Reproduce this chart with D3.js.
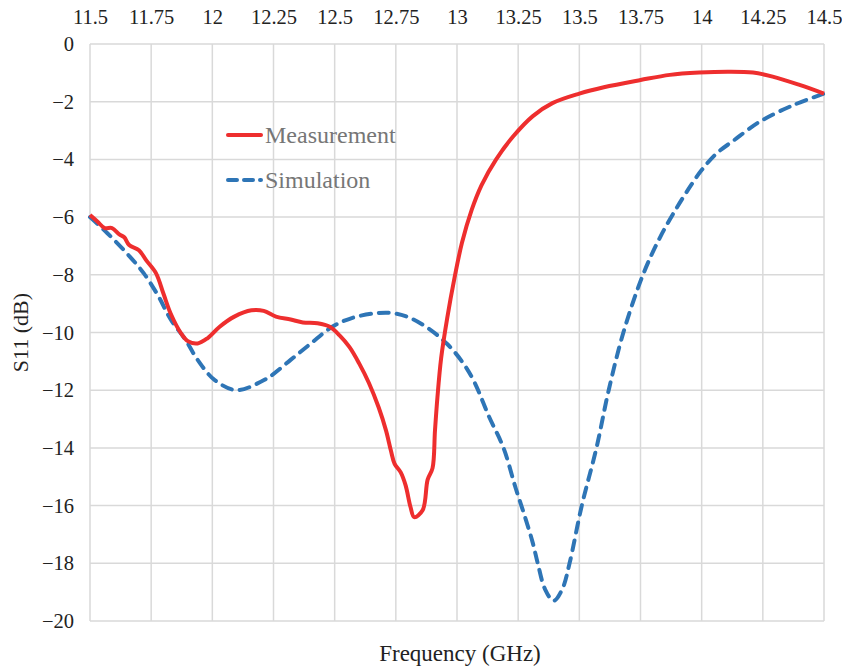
<!DOCTYPE html>
<html>
<head>
<meta charset="utf-8">
<script src="https://cdn.jsdelivr.net/npm/d3@7"></script>
<style>
  body { margin: 0; background: #fff; }
  svg text { font-family: "Liberation Serif", "DejaVu Serif", serif !important; }
</style>
</head>
<body>
<svg id="chart" width="842" height="667"></svg>
<script>
const serif = '"Liberation Serif", "DejaVu Serif", serif'

// frequency ticks (GHz) and S11 ticks (dB)
const xTicks = [11.5, 11.75, 12, 12.25, 12.5, 12.75, 13, 13.25, 13.5, 13.75, 14, 14.25, 14.5]
const yTicks = [0, -2, -4, -6, -8, -10, -12, -14, -16, -18, -20]

const measFreq = [11.5, 11.53, 11.56, 11.59, 11.62, 11.64, 11.66, 11.70, 11.73, 11.77, 11.80, 11.83, 11.87, 11.90, 11.94, 11.98,
  12.03, 12.09, 12.16, 12.21, 12.26, 12.32, 12.37, 12.43, 12.48, 12.52, 12.56, 12.60, 12.64, 12.68, 12.71, 12.73,
  12.745, 12.77, 12.79, 12.81, 12.825, 12.86, 12.88, 12.90, 12.91, 12.92, 12.935, 12.96, 12.99, 13.02, 13.06, 13.1,
  13.16, 13.23, 13.31, 13.39, 13.5, 13.6, 13.75, 13.87, 13.99, 14.11, 14.21, 14.29, 14.4, 14.5]
const measS11 = [-5.93, -6.15, -6.38, -6.38, -6.6, -6.7, -6.97, -7.15, -7.5, -7.95, -8.65, -9.35, -10.0, -10.3, -10.38, -10.2,
  -9.8, -9.45, -9.23, -9.25, -9.45, -9.55, -9.65, -9.68, -9.8, -10.1, -10.5, -11.07, -11.75, -12.6, -13.4, -14.1,
  -14.55, -14.85, -15.3, -16.05, -16.4, -16.15, -15.1, -14.7, -13.4, -12.25, -10.9, -9.5, -8.1, -6.9, -5.75, -4.9,
  -4.0, -3.2, -2.5, -2.05, -1.72, -1.5, -1.25, -1.07, -0.99, -0.96, -0.99, -1.13, -1.42, -1.72]

// simulated S11
const simFreq = [11.5, 11.57, 11.65, 11.72, 11.78, 11.83, 11.89, 11.94, 12.01, 12.10, 12.20, 12.24, 12.32, 12.40, 12.49,
  12.57, 12.67, 12.74, 12.81, 12.89, 12.96, 13.02, 13.07, 13.13, 13.19, 13.24, 13.28, 13.31, 13.33, 13.36, 13.395, 13.43,
  13.46, 13.51, 13.57, 13.62, 13.68, 13.76, 13.83, 13.90, 13.96, 14.0, 14.06, 14.13, 14.24, 14.38, 14.5]
const simS11 = [-6.0, -6.55, -7.25, -7.95, -8.75, -9.55, -10.25, -10.95, -11.65, -12.0, -11.7, -11.5, -10.95, -10.4, -9.8,
  -9.5, -9.33, -9.33, -9.5, -9.9, -10.4, -11.0, -11.7, -12.9, -14.0, -15.4, -16.45, -17.3, -18.0, -18.9, -19.3, -18.9,
  -18.0, -16.0, -14.0, -12.0, -10.0, -8.0, -6.7, -5.65, -4.85, -4.37, -3.8, -3.35, -2.68, -2.1, -1.72]

const width = 842, height = 667
const margin = {top: 44, right: 18, bottom: 46, left: 90}
const svg = d3.select('#chart')

const x = d3.scaleLinear().domain([11.5, 14.5]).range([margin.left, width - margin.right])
const y = d3.scaleLinear().domain([-20, 0]).range([height - margin.bottom, margin.top])

// grid
svg.append('g')
  .selectAll('line')
  .data(xTicks)
  .enter()
  .append('line')
  .attr('x1', d => x(d)).attr('x2', d => x(d))
  .attr('y1', y(0)).attr('y2', y(-20))
  .attr('stroke', '#d9d9d9').attr('stroke-width', 1.5)

svg.append('g')
  .selectAll('line')
  .data(yTicks)
  .enter()
  .append('line')
  .attr('x1', x(11.5)).attr('x2', x(14.5))
  .attr('y1', d => y(d)).attr('y2', d => y(d))
  .attr('stroke', '#d9d9d9').attr('stroke-width', 1.5)

// top axis labels
const xAxis = svg.append('g')
  .attr('transform', 'translate(0,' + margin.top + ')')
  .call(d3.axisTop(x).tickValues(xTicks).tickSize(0).tickPadding(20).tickFormat(d => String(d)))
  .attr('font-family', serif)
  .attr('font-size', 20.5)
xAxis.select('.domain').remove()
xAxis.selectAll('text').attr('fill', '#222')

const yAxis = svg.append('g')
  .attr('transform', 'translate(' + margin.left + ',0)')
  .call(d3.axisLeft(y).tickValues(yTicks).tickSize(0).tickPadding(16)
    .tickFormat(d => d < 0 ? '\u2212' + Math.abs(d) : String(d)))
  .attr('font-family', serif)
  .attr('font-size', 20.5)
yAxis.select('.domain').remove()
yAxis.selectAll('text').attr('fill', '#222')

// axis titles
svg.append('text')
  .attr('x', 460).attr('y', 661)
  .attr('text-anchor', 'middle')
  .attr('font-size', 23).attr('fill', '#222')
  .text('Frequency (GHz)')

svg.append('text')
  .attr('transform', 'translate(28,' + (y(-10)) + ') rotate(-90)')
  .attr('text-anchor', 'middle')
  .attr('font-size', 22).attr('fill', '#222')
  .text('S11 (dB)')

// curves
const line = d3.line()
  .x(d => x(d[0]))
  .y(d => y(d[1]))
  .curve(d3.curveCatmullRom.alpha(0.5))

const simData = simFreq.map((f, i) => [f, simS11[i]])
const measData = measFreq.map((f, i) => [f, measS11[i]])

svg.append('path')
  .attr('d', line(simData))
  .attr('fill', 'none')
  .attr('stroke', '#2e75b6')
  .attr('stroke-width', 4)
  .attr('stroke-dasharray', '10,8')
  .attr('stroke-linecap', 'round')

svg.append('path')
  .attr('d', line(measData))
  .attr('fill', 'none')
  .attr('stroke', '#ee2e2e')
  .attr('stroke-width', 4)
  .attr('stroke-linejoin', 'round')

// legend
const legend = [
  {name: 'Measurement', color: '#ee2e2e', dash: null, y: 135},
  {name: 'Simulation', color: '#2e75b6', dash: '9,7', y: 180}
]
legend.forEach(l => {
  svg.append('line')
    .attr('x1', 228).attr('x2', 261)
    .attr('y1', l.y).attr('y2', l.y)
    .attr('stroke', l.color).attr('stroke-width', 4)
    .attr('stroke-linecap', 'round')
    .attr('stroke-dasharray', l.dash)
  svg.append('text')
    .attr('x', 265).attr('y', l.y + 8)
    .attr('font-size', 24).attr('fill', '#767676')
    .text(l.name)
})
</script>
</body>
</html>
